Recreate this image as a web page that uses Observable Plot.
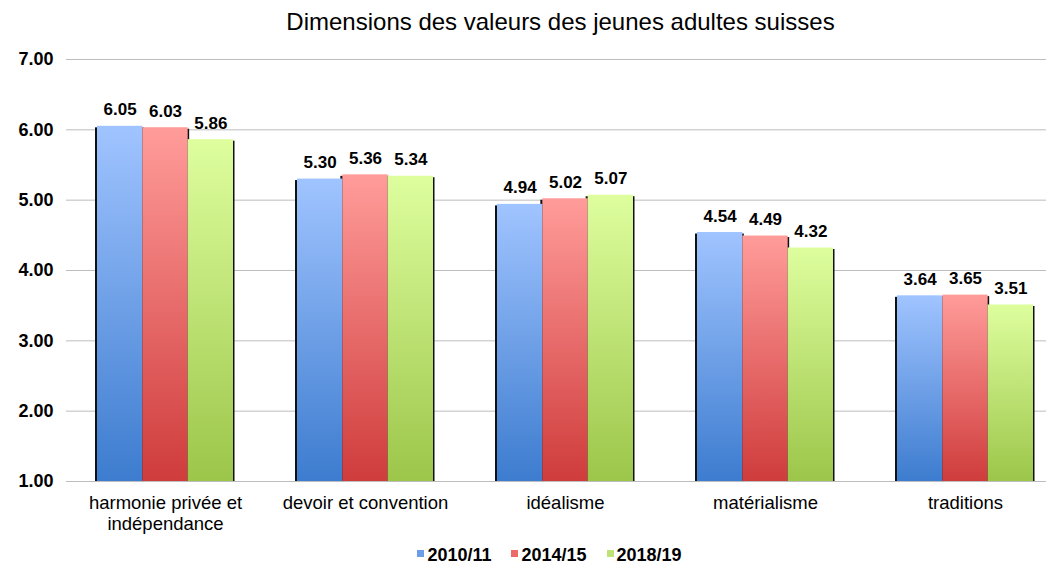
<!DOCTYPE html>
<html><head><meta charset="utf-8">
<script src="https://cdn.jsdelivr.net/npm/d3@7"></script>
<script src="https://cdn.jsdelivr.net/npm/@observablehq/plot@0.6"></script>
<style>
body{margin:0;background:#fff;font-family:"Liberation Sans",Arial,sans-serif;width:1051px;height:564px;overflow:hidden;}
#title{box-sizing:border-box;width:1051px;height:44px;line-height:44px;font-size:24px;text-align:center;padding-left:70px;color:#000;}
#chart{height:500px;}
#legend{box-sizing:border-box;width:1051px;height:22px;display:flex;justify-content:center;align-items:center;gap:20px;padding-left:48px;font-size:18px;font-weight:bold;color:#000;}
#legend .item{display:flex;align-items:center;}
#legend .sw{width:7px;height:7px;margin-right:3px;margin-top:-3px;}
</style></head><body>
<div id="title">Dimensions des valeurs des jeunes adultes suisses</div>
<div id="chart"></div>
<div id="legend"></div>
<script>
const categories = ["harmonie privée et indépendance", "devoir et convention", "idéalisme", "matérialisme", "traditions"];
const categoryLabels = ["harmonie privée et\nindépendance", "devoir et convention", "idéalisme", "matérialisme", "traditions"];
const series = ["2010/11", "2014/15", "2018/19"];
const values2010 = [6.05, 5.30, 4.94, 4.54, 3.64];
const values2014 = [6.03, 5.36, 5.02, 4.49, 3.65];
const values2018 = [5.86, 5.34, 5.07, 4.32, 3.51];
const yTicks = [1, 2, 3, 4, 5, 6, 7];
const gradTop = ["#a0c4ff", "#ff9c9a", "#defe9e"];
const gradBottom = ["#3d7ccf", "#cf3c3c", "#9cc64a"];
const legendColors = ["#6b9de8", "#ec6a6a", "#bde276"];

const seriesValues = [values2010, values2014, values2018];
const data = [];
series.forEach((s, si) => categories.forEach((c, ci) => data.push({category: c, series: s, si, value: seriesValues[si][ci]})));

const barW = 45.33;
const bandW = 200;
const inset = (bandW - barW) / 2;
const marks = [
  Plot.gridY(yTicks, {stroke: "#bdbdbd", strokeOpacity: 1})
];
// shadows first
series.forEach((s, si) => {
  marks.push(Plot.barY(data.filter(d => d.si === si), {
    x: "category", y1: 1, y2: "value", dx: (si - 1) * barW,
    insetLeft: inset - 2, insetRight: inset - 1.5, insetTop: 1.5,
    fill: "#111"
  }));
});
series.forEach((s, si) => {
  marks.push(Plot.barY(data.filter(d => d.si === si), {
    x: "category", y1: 1, y2: "value", dx: (si - 1) * barW,
    insetLeft: inset, insetRight: inset,
    fill: `url(#grad${si})`
  }));
  marks.push(Plot.text(data.filter(d => d.si === si), {
    x: "category", y: "value", dx: (si - 1) * barW, dy: -11,
    text: d => d.value.toFixed(2), lineAnchor: "bottom",
    fontSize: 17, fontWeight: "bold", fill: "#000"
  }));
});
marks.push(Plot.ruleY([1], {stroke: "#bdbdbd"}));
marks.push(Plot.axisY(yTicks, {tickSize: 0, tickPadding: 13, tickFormat: d => d.toFixed(2), fontSize: 18, fontWeight: "bold", fill: "#000", label: null}));
marks.push(Plot.text(categories, {
  x: d => d, text: (d, i) => categoryLabels[i], frameAnchor: "bottom", lineAnchor: "top",
  dy: 12, fontSize: 18.5, lineHeight: 1.15, fill: "#000"
}));

const svg = Plot.plot({
  width: 1051, height: 500,
  marginTop: 15, marginBottom: 63, marginLeft: 66, marginRight: 5,
  style: {fontFamily: '"Liberation Sans", Arial, sans-serif', background: "white", overflow: "visible"},
  x: {type: "band", domain: categories, range: [65, 1065], padding: 0, axis: null},
  y: {type: "linear", domain: [1, 7], axis: null},
  marks
});

const ns = "http://www.w3.org/2000/svg";
const defs = document.createElementNS(ns, "defs");
series.forEach((s, si) => {
  const g = document.createElementNS(ns, "linearGradient");
  g.setAttribute("id", `grad${si}`);
  g.setAttribute("x1", "0"); g.setAttribute("y1", "0"); g.setAttribute("x2", "0"); g.setAttribute("y2", "1");
  [[0, gradTop[si]], [1, gradBottom[si]]].forEach(([o, c]) => {
    const st = document.createElementNS(ns, "stop");
    st.setAttribute("offset", o); st.setAttribute("stop-color", c);
    g.appendChild(st);
  });
  defs.appendChild(g);
});
svg.insertBefore(defs, svg.firstChild);
document.getElementById("chart").appendChild(svg);

const legend = document.getElementById("legend");
series.forEach((s, si) => {
  const item = document.createElement("div");
  item.className = "item";
  const sw = document.createElement("span");
  sw.className = "sw"; sw.style.background = legendColors[si];
  item.appendChild(sw);
  item.appendChild(document.createTextNode(s));
  legend.appendChild(item);
});
</script>
</body></html>
